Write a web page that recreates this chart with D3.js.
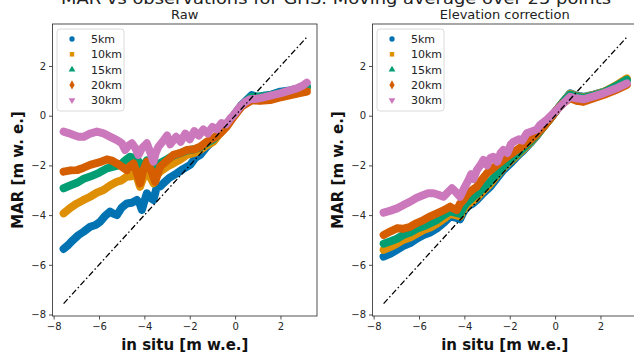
<!DOCTYPE html>
<html>
<head>
<meta charset="utf-8">
<script src="https://cdn.jsdelivr.net/npm/d3@7"></script>
<style>
  body { margin: 0; background: #fff; }
  svg { font-family: "DejaVu Sans", sans-serif; display: block; }
</style>
</head>
<body>
<svg id="chart" width="634" height="354"></svg>
<script>
const suptitle = "MAR vs observations for GrIS. Moving average over 25 points";
const panelTitles = ["Raw", "Elevation correction"];
const seriesNames = ["5km", "10km", "15km", "20km", "30km"];
const colors = ["#0173b2", "#de8f05", "#029e73", "#d55e00", "#cc78bc"];
const ticks = [-8, -6, -4, -2, 0, 2];
const oneToOne = [[-7.56, -7.56], [3.16, 3.16]];

// Raw panel, [in situ, MAR]
const raw5 = [[-7.56,-5.36],[-7.35,-5.2],[-7.2,-5.05],[-6.9,-4.8],[-6.68,-4.67],[-6.39,-4.47],[-6.15,-4.4],[-5.95,-4.27],[-5.75,-4.05],[-5.51,-3.86],[-5.35,-3.95],[-5.21,-4.0],[-5.0,-3.7],[-4.77,-3.53],[-4.55,-3.5],[-4.33,-3.39],[-4.2,-3.55],[-4.11,-3.79],[-4.0,-3.45],[-3.89,-3.12],[-3.75,-3.3],[-3.6,-3.39],[-3.45,-2.86],[-3.3,-2.85],[-3.16,-2.72],[-2.9,-2.5],[-2.57,-2.32],[-2.3,-2.15],[-1.98,-1.98],[-1.75,-1.7],[-1.54,-1.58],[-1.25,-1.25],[-0.96,-1.0],[-0.7,-0.7],[-0.51,-0.55],[-0.3,-0.3],[-0.07,0.0],[0.3,0.45],[0.73,0.83],[1.0,0.75],[1.25,0.8],[1.6,0.85],[2.0,0.97],[2.4,1.02],[2.7,1.08],[3.16,1.18]];
const raw10 = [[-7.56,-3.93],[-7.25,-3.7],[-6.97,-3.53],[-6.7,-3.4],[-6.39,-3.26],[-6.1,-3.1],[-5.8,-2.99],[-5.5,-2.8],[-5.21,-2.66],[-5.0,-2.6],[-4.77,-2.45],[-4.6,-2.45],[-4.41,-2.32],[-4.3,-2.55],[-4.19,-2.86],[-4.05,-2.5],[-3.89,-2.25],[-3.75,-2.45],[-3.6,-2.72],[-3.45,-2.4],[-3.3,-2.25],[-3.0,-2.05],[-2.72,-1.92],[-2.4,-1.75],[-2.13,-1.58],[-1.8,-1.5],[-1.54,-1.38],[-1.25,-1.2],[-0.96,-1.05],[-0.7,-0.75],[-0.51,-0.55],[-0.3,-0.3],[-0.07,0.0],[0.3,0.42],[0.73,0.74],[1.25,0.74],[1.6,0.8],[2.0,0.88],[2.4,0.93],[2.7,0.98],[3.16,1.07]];
const raw15 = [[-7.56,-2.92],[-7.25,-2.8],[-6.97,-2.7],[-6.7,-2.55],[-6.39,-2.45],[-6.0,-2.3],[-5.65,-2.12],[-5.35,-2.05],[-5.07,-1.98],[-4.85,-1.8],[-4.63,-1.65],[-4.45,-1.7],[-4.33,-1.72],[-4.2,-1.95],[-4.11,-2.12],[-3.89,-1.8],[-3.7,-2.05],[-3.6,-2.3],[-3.45,-2.0],[-3.3,-1.9],[-3.0,-1.75],[-2.72,-1.6],[-2.4,-1.5],[-2.13,-1.4],[-1.8,-1.35],[-1.54,-1.28],[-1.25,-1.1],[-0.96,-0.95],[-0.7,-0.7],[-0.51,-0.5],[-0.07,0.0],[0.3,0.42],[0.73,0.76],[1.25,0.78],[1.6,0.84],[2.0,0.92],[2.4,0.98],[2.7,1.05],[3.16,1.17]];
const raw20 = [[-7.56,-2.25],[-7.25,-2.2],[-6.97,-2.19],[-6.7,-2.1],[-6.39,-1.98],[-6.0,-1.88],[-5.65,-1.76],[-5.4,-1.82],[-5.21,-1.92],[-5.0,-2.05],[-4.77,-2.19],[-4.6,-2.0],[-4.48,-1.92],[-4.35,-2.25],[-4.19,-2.72],[-4.05,-2.2],[-3.89,-1.85],[-3.7,-2.2],[-3.52,-2.66],[-3.4,-2.3],[-3.3,-2.05],[-3.0,-1.8],[-2.72,-1.58],[-2.4,-1.5],[-2.13,-1.38],[-1.8,-1.35],[-1.54,-1.25],[-1.25,-1.05],[-0.96,-0.91],[-0.65,-0.7],[-0.37,-0.44],[-0.07,-0.05],[0.3,0.38],[0.73,0.62],[1.1,0.6],[1.54,0.63],[1.9,0.72],[2.2,0.78],[2.7,0.88],[3.16,0.97]];
const raw30 = [[-7.56,-0.64],[-7.35,-0.7],[-7.12,-0.78],[-6.9,-0.85],[-6.68,-0.85],[-6.4,-0.72],[-6.09,-0.64],[-5.8,-0.71],[-5.5,-0.85],[-5.21,-0.98],[-5.0,-1.1],[-4.85,-1.38],[-4.7,-1.2],[-4.55,-1.11],[-4.4,-1.3],[-4.26,-1.58],[-4.1,-1.3],[-3.89,-1.11],[-3.75,-1.45],[-3.6,-1.85],[-3.5,-1.5],[-3.38,-1.25],[-3.2,-1.05],[-3.0,-0.8],[-2.86,-1.15],[-2.6,-0.85],[-2.4,-1.05],[-2.2,-0.72],[-2.0,-0.95],[-1.8,-0.62],[-1.6,-0.8],[-1.4,-0.55],[-1.2,-0.72],[-1.0,-0.45],[-0.8,-0.55],[-0.6,-0.3],[-0.4,-0.35],[-0.2,-0.1],[-0.07,0.02],[0.22,0.36],[0.45,0.55],[0.66,0.66],[0.95,0.68],[1.25,0.74],[1.6,0.82],[1.98,0.9],[2.35,1.0],[2.72,1.1],[3.0,1.22],[3.16,1.33]];

// Elevation corrected panel
const elev5 = [[-7.56,-5.67],[-7.25,-5.55],[-6.97,-5.4],[-6.7,-5.25],[-6.39,-5.13],[-6.1,-4.95],[-5.8,-4.8],[-5.5,-4.7],[-5.21,-4.53],[-4.9,-4.3],[-4.63,-4.06],[-4.4,-4.1],[-4.19,-4.17],[-4.05,-3.9],[-3.89,-3.66],[-3.65,-3.55],[-3.45,-3.39],[-3.15,-3.1],[-2.86,-2.86],[-2.55,-2.5],[-2.28,-2.19],[-2.0,-1.95],[-1.69,-1.65],[-1.4,-1.4],[-1.1,-1.11],[-0.8,-0.8],[-0.51,-0.44],[-0.2,-0.1],[0.07,0.23],[0.35,0.55],[0.66,0.9],[0.95,0.8],[1.25,0.76],[1.7,0.85],[2.13,0.96],[2.65,1.15],[3.16,1.43]];
const elev10 = [[-7.56,-5.4],[-7.25,-5.28],[-6.97,-5.15],[-6.7,-5.0],[-6.39,-4.9],[-6.1,-4.75],[-5.8,-4.6],[-5.5,-4.5],[-5.21,-4.35],[-4.9,-4.15],[-4.63,-3.95],[-4.4,-4.0],[-4.19,-4.05],[-4.05,-3.8],[-3.89,-3.6],[-3.65,-3.45],[-3.45,-3.3],[-3.15,-3.0],[-2.86,-2.75],[-2.55,-2.4],[-2.28,-2.1],[-2.0,-1.85],[-1.69,-1.6],[-1.4,-1.35],[-1.1,-1.08],[-0.8,-0.78],[-0.51,-0.45],[-0.2,-0.1],[0.07,0.22],[0.35,0.55],[0.66,0.88],[0.95,0.78],[1.25,0.74],[1.7,0.84],[2.13,0.95],[2.65,1.2],[3.16,1.5]];
const elev15 = [[-7.56,-5.15],[-7.25,-5.05],[-6.97,-4.95],[-6.7,-4.8],[-6.39,-4.7],[-6.1,-4.55],[-5.8,-4.45],[-5.5,-4.32],[-5.21,-4.2],[-4.9,-4.0],[-4.63,-3.85],[-4.4,-3.9],[-4.19,-3.95],[-4.05,-3.7],[-3.89,-3.5],[-3.65,-3.3],[-3.45,-3.15],[-3.15,-2.9],[-2.86,-2.65],[-2.55,-2.35],[-2.28,-2.05],[-2.0,-1.8],[-1.69,-1.55],[-1.4,-1.3],[-1.1,-1.05],[-0.8,-0.75],[-0.51,-0.44],[-0.2,-0.1],[0.07,0.23],[0.35,0.55],[0.66,0.85],[0.95,0.76],[1.25,0.72],[1.7,0.82],[2.13,0.93],[2.65,1.18],[3.16,1.45]];
const elev20 = [[-7.56,-4.8],[-7.25,-4.65],[-6.97,-4.53],[-6.7,-4.55],[-6.39,-4.47],[-6.1,-4.32],[-5.8,-4.2],[-5.5,-4.05],[-5.21,-3.93],[-4.9,-3.8],[-4.63,-3.66],[-4.45,-3.75],[-4.33,-3.8],[-4.2,-3.55],[-4.04,-3.39],[-3.9,-3.2],[-3.75,-3.06],[-3.6,-2.95],[-3.45,-2.86],[-3.25,-2.6],[-3.01,-2.32],[-2.65,-2.05],[-2.28,-1.78],[-2.0,-1.58],[-1.69,-1.38],[-1.4,-1.2],[-1.1,-0.98],[-0.8,-0.72],[-0.51,-0.44],[-0.2,-0.1],[0.07,0.23],[0.35,0.5],[0.66,0.7],[0.95,0.6],[1.25,0.56],[1.7,0.7],[2.13,0.83],[2.65,1.02],[3.16,1.24]];
const elev30 = [[-7.56,-3.9],[-7.25,-3.82],[-6.97,-3.73],[-6.7,-3.6],[-6.39,-3.46],[-6.1,-3.3],[-5.8,-3.19],[-5.6,-3.12],[-5.36,-3.12],[-5.15,-3.18],[-4.92,-3.26],[-4.75,-3.1],[-4.55,-2.92],[-4.4,-3.05],[-4.19,-3.26],[-4.0,-2.9],[-3.82,-2.59],[-3.7,-2.35],[-3.6,-2.55],[-3.45,-2.19],[-3.3,-2.0],[-3.16,-1.78],[-3.0,-2.0],[-2.85,-1.7],[-2.72,-1.65],[-2.55,-1.85],[-2.4,-1.5],[-2.28,-1.38],[-2.1,-1.5],[-1.95,-1.15],[-1.84,-1.05],[-1.6,-0.95],[-1.45,-1.0],[-1.25,-0.71],[-1.0,-0.62],[-0.8,-0.55],[-0.66,-0.37],[-0.35,-0.15],[-0.07,0.1],[0.15,0.3],[0.37,0.5],[0.66,0.76],[0.95,0.7],[1.25,0.66],[1.7,0.78],[2.13,0.9],[2.65,1.08],[3.16,1.3]];

const panels = [
  { title: panelTitles[0], left: 52.5, series: [raw5, raw10, raw15, raw20, raw30] },
  { title: panelTitles[1], left: 372.5, series: [elev5, elev10, elev15, elev20, elev30] }
];

const svg = d3.select("#chart");
const plotW = 264.5, plotTop = 24, plotBottom = 316;

svg.append("text")
  .attr("x", 61).attr("y", 4)
  .attr("font-size", 15.5)
  .attr("textLength", 550).attr("lengthAdjust", "spacingAndGlyphs")
  .attr("fill", "#222")
  .text(suptitle);

const symbols = [
  d3.symbol().type(d3.symbolCircle).size(20),
  d3.symbol().type(d3.symbolSquare).size(18),
  d3.symbol().type(d3.symbolTriangle).size(18),
  d3.symbol().type(d3.symbolDiamond).size(20),
  d3.symbol().type(d3.symbolTriangle).size(18)
];
const legendSymbols = [
  d3.symbol().type(d3.symbolCircle).size(22),
  d3.symbol().type(d3.symbolSquare).size(20),
  d3.symbol().type(d3.symbolTriangle).size(20),
  d3.symbol().type(d3.symbolDiamond).size(24),
  d3.symbol().type(d3.symbolTriangle).size(20)
];

const fmt = d => String(d).replace("-", "\u2212");

panels.forEach(p => {
  const x = d3.scaleLinear().domain([-8.05, 3.61]).range([p.left, p.left + plotW]);
  const y = d3.scaleLinear().domain([-8.06, 3.69]).range([plotBottom, plotTop]);
  const g = svg.append("g");

  const clipId = "clip" + Math.round(p.left);
  g.append("clipPath").attr("id", clipId)
    .append("rect").attr("x", p.left).attr("y", plotTop).attr("width", plotW).attr("height", plotBottom - plotTop);
  const plot = g.append("g").attr("clip-path", `url(#${clipId})`);

  const line = d3.line().x(d => x(d[0])).y(d => y(d[1]));

  p.series.forEach((s, i) => {
    plot.append("path")
      .attr("d", line(s))
      .attr("fill", "none")
      .attr("stroke", colors[i])
      .attr("stroke-width", 8)
      .attr("stroke-linejoin", "round")
      .attr("stroke-linecap", "round");
    plot.selectAll(null).data(s).enter().append("path")
      .attr("d", symbols[i]())
      .attr("fill", colors[i])
      .attr("transform", d => `translate(${x(d[0])},${y(d[1])})` + (i === 4 ? " rotate(180)" : ""));
  });

  plot.append("path")
    .attr("d", line(oneToOne))
    .attr("fill", "none")
    .attr("stroke", "#000")
    .attr("stroke-width", 1.3)
    .attr("stroke-dasharray", "6,2.5,1.5,2.5");

  // axes
  const xAxis = g.append("g").attr("transform", `translate(0,${plotBottom})`)
    .call(d3.axisBottom(x).tickValues(ticks).tickSize(3.5).tickPadding(3).tickFormat(fmt));
  const yAxis = g.append("g").attr("transform", `translate(${p.left},0)`)
    .call(d3.axisLeft(y).tickValues(ticks).tickSize(3.5).tickPadding(3).tickFormat(fmt));
  [xAxis, yAxis].forEach(a => {
    a.select(".domain").remove();
    a.selectAll("text").attr("font-size", 10).attr("fill", "#262626").attr("font-family", "DejaVu Sans");
    a.selectAll("line").attr("stroke", "#262626").attr("stroke-width", 0.8);
  });

  g.append("rect")
    .attr("x", p.left).attr("y", plotTop).attr("width", plotW).attr("height", plotBottom - plotTop)
    .attr("fill", "none").attr("stroke", "#262626").attr("stroke-width", 0.8);

  g.append("text")
    .attr("x", p.left + plotW / 2).attr("y", 19)
    .attr("text-anchor", "middle").attr("font-size", 13).attr("fill", "#222")
    .text(p.title);

  g.append("text")
    .attr("x", p.left + plotW / 2).attr("y", 350)
    .attr("text-anchor", "middle").attr("font-size", 15).attr("font-weight", "bold").attr("fill", "#111")
    .text("in situ [m w.e.]");

  g.append("text")
    .attr("transform", `translate(${p.left - 30},${(plotTop + plotBottom) / 2}) rotate(-90)`)
    .attr("text-anchor", "middle").attr("font-size", 15).attr("font-weight", "bold").attr("fill", "#111")
    .text("MAR [m w. e.]");

  // legend
  const lg = g.append("g").attr("transform", `translate(${p.left + 4.5},${plotTop + 5})`);
  lg.append("rect").attr("width", 67).attr("height", 82).attr("rx", 3)
    .attr("fill", "#fff").attr("fill-opacity", 0.85).attr("stroke", "#d0d0d0").attr("stroke-width", 0.8);
  seriesNames.forEach((name, i) => {
    const yy = 10 + i * 15.3;
    lg.append("path").attr("d", legendSymbols[i]())
      .attr("fill", colors[i])
      .attr("transform", `translate(15,${yy})` + (i === 4 ? " rotate(180)" : ""));
    lg.append("text").attr("x", 34).attr("y", yy + 4).attr("font-size", 11).attr("fill", "#222").text(name);
  });
});
</script>
</body>
</html>
